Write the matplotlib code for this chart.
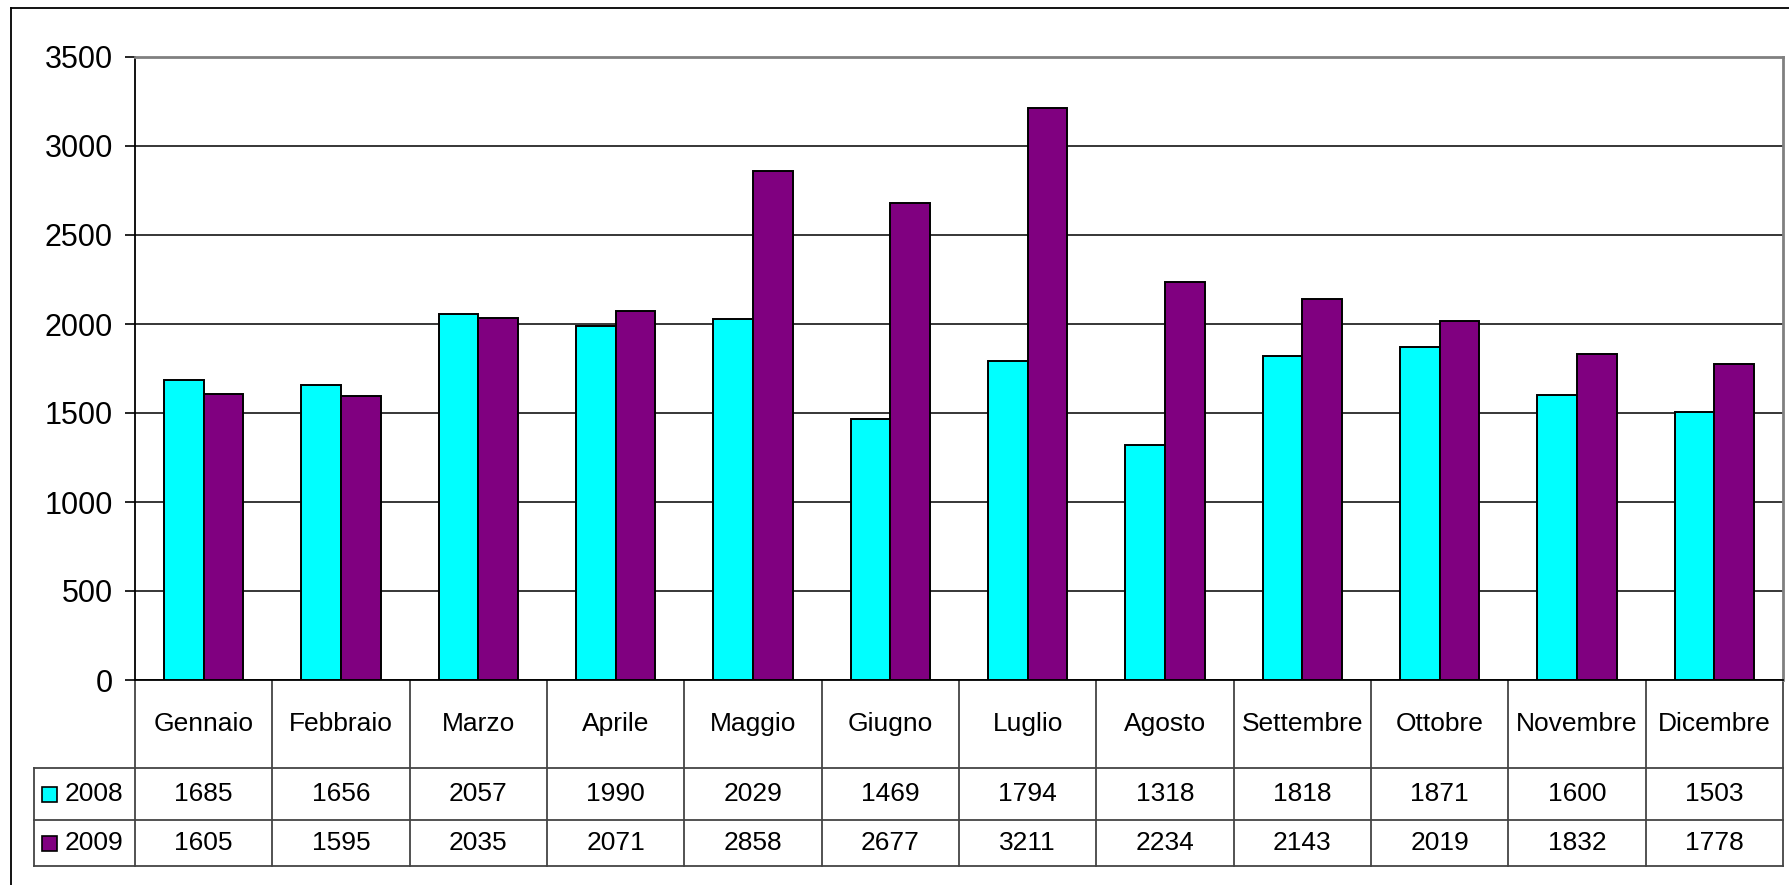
import matplotlib
matplotlib.use("Agg")
import matplotlib.pyplot as plt
import matplotlib.transforms as mtransforms
from matplotlib.patches import Rectangle
import numpy as np

months = ["Gennaio", "Febbraio", "Marzo", "Aprile", "Maggio", "Giugno",
          "Luglio", "Agosto", "Settembre", "Ottobre", "Novembre", "Dicembre"]
series_names = ["2008", "2009"]
v2008 = [1685, 1656, 2057, 1990, 2029, 1469, 1794, 1318, 1818, 1871, 1600, 1503]
v2009 = [1605, 1595, 2035, 2071, 2858, 2677, 3211, 2234, 2143, 2019, 1832, 1778]
colors = ["#00FFFF", "#800080"]
yticks = [0, 500, 1000, 1500, 2000, 2500, 3000, 3500]

plt.rcParams['font.family'] = ['Liberation Sans', 'DejaVu Sans']

W, H = 1789, 885
fig = plt.figure(figsize=(W / 100, H / 100), dpi=100)

# plot area in pixels (reference coordinates)
left_px, right_px, top_px, zero_px = 135, 1783, 57, 680
ax = fig.add_axes([left_px / W, 1 - zero_px / H,
                   (right_px - left_px) / W, (zero_px - top_px) / H])

x = np.arange(len(months))
w = 0.288
ax.bar(x - w / 2, v2008, w, color=colors[0], edgecolor="black", linewidth=1.4, zorder=3)
ax.bar(x + w / 2, v2009, w, color=colors[1], edgecolor="black", linewidth=1.4, zorder=3)

ax.set_xlim(-0.5, len(months) - 0.5)
ax.set_ylim(0, 3500)
ax.set_yticks(yticks)
ax.set_xticks([])
ax.tick_params(axis="y", labelsize=22, length=7, width=1.2, pad=9, direction="out")
ax.yaxis.grid(True, color="black", linewidth=1.1, zorder=0)
ax.set_axisbelow(True)
for s in ["top", "right"]:
    ax.spines[s].set_color("#808080")
    ax.spines[s].set_linewidth(2)
ax.spines["left"].set_linewidth(1.3)
ax.spines["bottom"].set_linewidth(1.3)

# data table under the axis
trans = mtransforms.blended_transform_factory(ax.transData, ax.transAxes)
def ay(py):
    return (zero_px - py) / (zero_px - top_px)

row_cat, row_a, row_b = ay(768), ay(820), ay(866)
leg_left = (34 - left_px) / ((right_px - left_px) / len(months)) - 0.5
line_kw = dict(transform=trans, clip_on=False, color="#444444", linewidth=1.3)

for k in range(len(months) + 1):
    ax.plot([k - 0.5, k - 0.5], [0, row_b], **line_kw)
for yy in (row_cat, row_a, row_b):
    ax.plot([leg_left, len(months) - 0.5], [yy, yy], **line_kw)
ax.plot([leg_left, leg_left], [row_cat, row_b], **line_kw)

fs = 19
for i, m in enumerate(months):
    ax.text(i, (0 + row_cat) / 2, m, transform=trans, ha="center", va="center", fontsize=fs)
    ax.text(i, (row_cat + row_a) / 2, str(v2008[i]), transform=trans,
            ha="center", va="center", fontsize=fs)
    ax.text(i, (row_a + row_b) / 2, str(v2009[i]), transform=trans,
            ha="center", va="center", fontsize=fs)

# legend keys in the table
for name, col, (ytop, ybot) in zip(series_names, colors, [(row_cat, row_a), (row_a, row_b)]):
    ymid = (ytop + ybot) / 2
    fy = 1 - (zero_px - ymid * (zero_px - top_px)) / H
    fig.add_artist(Rectangle((42 / W, fy - 7.5 / H), 15 / W, 15 / H,
                             transform=fig.transFigure, facecolor=col,
                             edgecolor="black", linewidth=1.2))
    fig.text(65 / W, fy, name, ha="left", va="center", fontsize=fs)

# outer chart frame
fig.add_artist(plt.Line2D([11 / W, 1], [1 - 8 / H, 1 - 8 / H], transform=fig.transFigure,
                          color="black", linewidth=1.3))
fig.add_artist(plt.Line2D([11 / W, 11 / W], [0, 1 - 8 / H], transform=fig.transFigure,
                          color="black", linewidth=1.3))

fig.savefig("out.png", dpi=100)
